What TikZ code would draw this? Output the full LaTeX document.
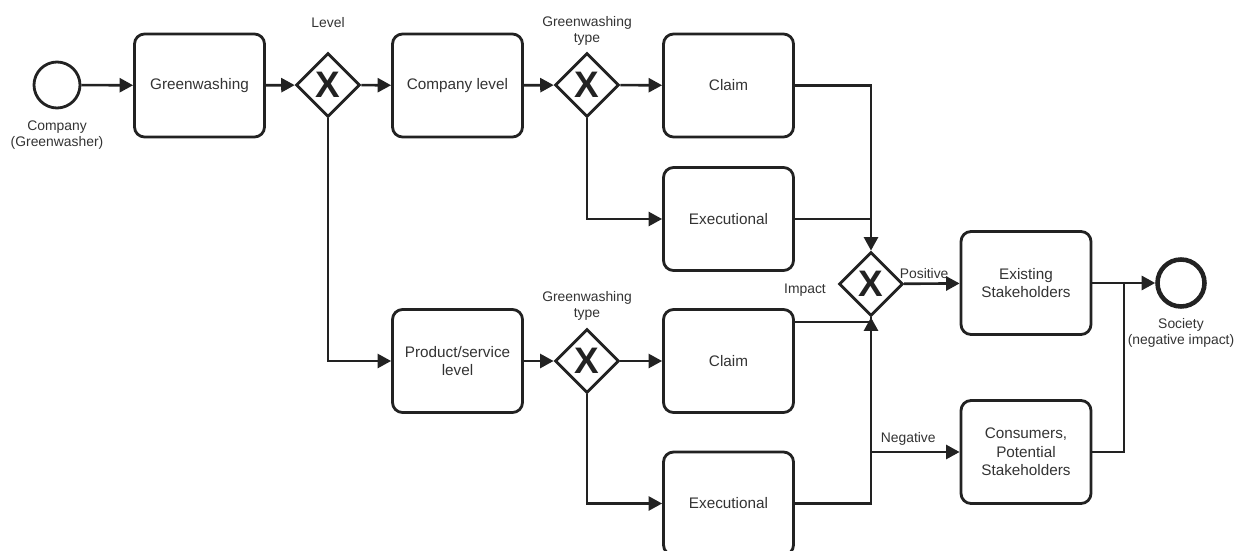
\documentclass[tikz,border=0pt]{standalone}
\usepackage{fontspec}
\setmainfont{Liberation Sans}
\usetikzlibrary{arrows.meta,shapes.geometric}
\definecolor{ink}{HTML}{222222}
\definecolor{txt}{HTML}{333333}
\tikzset{
  task/.style={draw=ink, line width=1.6pt, rounded corners=0.2cm, minimum width=2.6cm, minimum height=2.06cm,
    align=center, font=\fontsize{8.7}{10.6}\selectfont, text=txt},
  gate/.style={diamond, draw=ink, line width=1.6pt, minimum size=1.28cm, inner sep=0pt,
    font=\fontsize{21}{21}\selectfont\bfseries, text=ink},
  line/.style={line width=1.5pt, draw=ink},
  flow/.style={line, -{Triangle[length=0.27cm,width=0.28cm]}},
  lbl/.style={font=\fontsize{7.9}{9.4}\selectfont, text=txt, align=center},
}
\begin{document}
\begin{tikzpicture}[x=0.02cm,y=-0.02cm]
  \useasboundingbox (0,0) rectangle (1235,551);
  % upper row
  \node[circle, draw=ink, line width=1.6pt, minimum size=0.92cm, inner sep=0pt] (start) at (57,85) {};
  \node[lbl] (startlbl) at (57,135) {Company\\(Greenwasher)};
  \node[task] (green) at (199.5,85.5) {Greenwashing};
  \node[gate] (level) at (328,85) {X};
  \node[lbl] (levellbl) at (328,23) {Level};
  \node[task] (complevel) at (457.5,85.5) {Company level};
  \node[gate] (typeA) at (587,85) {X};
  \node[lbl] (typeAlbl) at (587,31) {Greenwashing\\type};
  \node[task] (claimA) at (728.5,85.5) {Claim};
  \node[task] (execA) at (728.5,219) {Executional};
  % lower row
  \node[task] (prodlevel) at (457.5,361) {Product/service\\level};
  \node[gate] (typeB) at (587,361) {X};
  \node[lbl] (typeBlbl) at (587,306) {Greenwashing\\type};
  \node[task] (claimB) at (728.5,361) {Claim};
  \node[task] (execB) at (728.5,503.5) {Executional};
  % impact
  \node[gate] (impact) at (871,284) {X};
  \node[lbl] (impactlbl) at (805,290) {Impact};
  \node[task] (existing) at (1026,283) {Existing\\Stakeholders};
  \node[task] (consumers) at (1026,452) {Consumers,\\Potential\\Stakeholders};
  \node[circle, draw=ink, line width=2.6pt, minimum size=0.94cm, inner sep=0pt] (society) at (1181,283) {};
  \node[lbl] (societylbl) at (1181,333) {Society\\(negative impact)};
  \coordinate (merge) at (1124,283);

  \draw[flow] (start) -- (green);
  \draw[flow] (green) -- (level);
  \draw[flow] (level) -- (complevel);
  \draw[flow] (complevel) -- (typeA);
  \draw[flow] (typeA) -- (claimA);
  \draw[flow] (typeA.south) |- (execA);
  \draw[flow] (level.south) |- (prodlevel);
  \draw[flow] (prodlevel) -- (typeB);
  \draw[flow] (typeB) -- (claimB);
  \draw[flow] (typeB.south) |- (execB);
  \draw[flow] (claimA) -| (impact.north);
  \draw[line] (execA.east) -- (execA.east -| impact.north);
  \draw[line] ([yshift=0.78cm]claimB.east) -| (impact.south);
  \draw[flow] (execB.east) -| (impact.south);
  \draw[flow] (impact) -- (existing) node[lbl, above, pos=0.36, inner sep=2pt] {Positive};
  \draw[flow] (impact.south |- consumers.west) -- (consumers) node[lbl, above, pos=0.42, inner sep=3pt] {Negative};
  \draw[flow] (existing) -- (society);
  \draw[line] (consumers.east) -| (merge);
\end{tikzpicture}
\end{document}
